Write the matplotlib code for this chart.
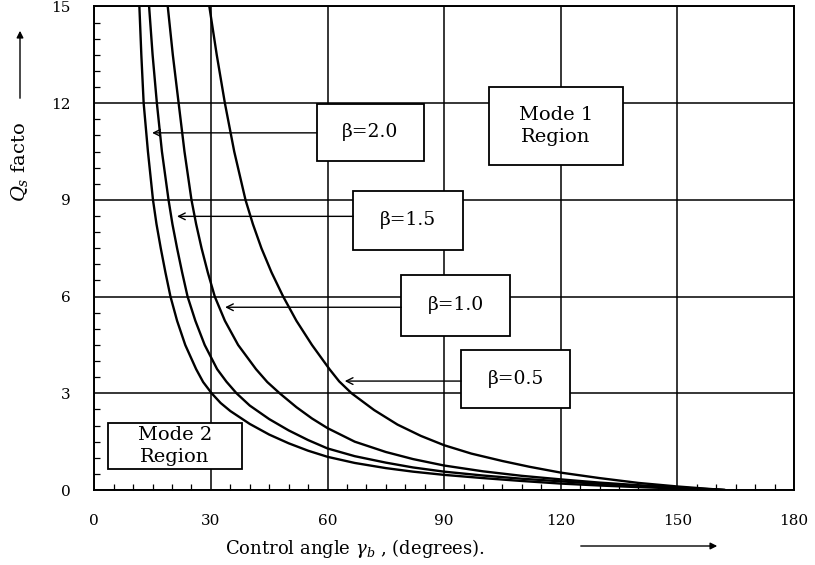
import numpy as np
import matplotlib
matplotlib.use("Agg")
import matplotlib.pyplot as plt
from matplotlib.patches import Rectangle
from matplotlib.ticker import MultipleLocator

plt.rcParams['font.family'] = ['DejaVu Serif']
plt.rcParams['mathtext.fontset'] = 'dejavuserif'

# Q_s factor against control angle, one curve per beta
angle_b05 = [29.6, 31.5, 33.6, 36.0, 38.9, 40.8, 43.0, 45.6, 48.6, 52.0, 56.0, 60.5, 63,
             66.2, 72, 78, 84, 90, 97, 105, 112, 120, 130, 140, 150, 162]
q_b05 = [15, 13.5, 12, 10.5, 9, 8.25, 7.5, 6.75, 6, 5.25, 4.5, 3.75, 3.37,
         3.0, 2.48, 2.03, 1.68, 1.39, 1.13, 0.9, 0.72, 0.54, 0.37, 0.22, 0.11, 0.0]

angle_b10 = [18.9, 20.2, 21.7, 23.2, 25.0, 26.2, 27.6, 29.2, 31.0, 33.6, 37.0, 41.6, 44.5,
             47.7, 52, 56, 60, 67, 75, 82, 90, 100, 110, 120, 130, 140, 150, 162]
q_b10 = [15, 13.5, 12, 10.5, 9, 8.25, 7.5, 6.75, 6, 5.25, 4.5, 3.75, 3.35,
         3.0, 2.57, 2.22, 1.92, 1.5, 1.18, 0.96, 0.76, 0.58, 0.44, 0.33, 0.23, 0.15, 0.08, 0.0]

angle_b15 = [14.1, 15.0, 16.1, 17.4, 19.1, 20.1, 21.3, 22.6, 24.0, 26.0, 28.4, 31.6, 34,
             36.6, 40, 45, 50, 55, 60, 67, 75, 82, 90, 100, 110, 120, 130, 140, 150, 162]
q_b15 = [15, 13.5, 12, 10.5, 9, 8.25, 7.5, 6.75, 6, 5.25, 4.5, 3.75, 3.36,
         3.0, 2.62, 2.2, 1.85, 1.55, 1.29, 1.05, 0.85, 0.70, 0.57, 0.45, 0.35, 0.27,
         0.19, 0.12, 0.06, 0.0]

angle_b20 = [11.6, 12.1, 12.7, 13.8, 15.1, 16.0, 17.1, 18.3, 19.6, 21.3, 23.4, 26.2, 28,
             30.2, 32.5, 35, 40, 45, 50, 55, 60, 67, 75, 82, 90, 100, 110, 120, 130,
             140, 150, 162]
q_b20 = [15, 13.5, 12, 10.5, 9, 8.25, 7.5, 6.75, 6, 5.25, 4.5, 3.75, 3.35,
         3.0, 2.7, 2.45, 2.05, 1.72, 1.45, 1.22, 1.03, 0.84, 0.68, 0.57, 0.47, 0.37,
         0.28, 0.20, 0.14, 0.09, 0.05, 0.0]

beta_labels = ['β=0.5', 'β=1.0', 'β=1.5', 'β=2.0']
arrow_levels = [3.38, 5.67, 8.49, 11.08]

fig = plt.figure(figsize=(8.15, 5.65), dpi=100)
ax = fig.add_axes([0.1157, 0.1327, 0.8585, 0.8558])

curves = [(angle_b05, q_b05), (angle_b10, q_b10), (angle_b15, q_b15), (angle_b20, q_b20)]
for xs, ys in curves:
    ax.plot(xs, ys, color='black', lw=1.7, zorder=2, solid_joinstyle='round')

ax.set_xlim(0, 180)
ax.set_ylim(0, 15)
ax.xaxis.set_major_locator(MultipleLocator(30))
ax.yaxis.set_major_locator(MultipleLocator(3))
ax.xaxis.set_minor_locator(MultipleLocator(5))
ax.yaxis.set_minor_locator(MultipleLocator(0.5))
ax.tick_params(which='major', length=0, labelsize=11)
ax.tick_params(axis='x', which='major', pad=17)
ax.tick_params(axis='y', which='major', pad=17)
ax.tick_params(which='minor', direction='in', length=4, width=0.9)
ax.set_axisbelow(True)
ax.grid(True, which='major', color='black', lw=1.1)
for sp in ax.spines.values():
    sp.set_linewidth(1.4)

# label boxes: (x0, y0, width, height) in data units
boxes = [(94.4, 2.55, 28.1, 1.80), (79.0, 4.79, 28.0, 1.87),
         (66.6, 7.45, 28.3, 1.84), (57.2, 10.2, 27.6, 1.79)]
for (x0, y0, w, h), label, yl, (xs, ys) in zip(boxes, beta_labels, arrow_levels, curves):
    ax.add_patch(Rectangle((x0, y0), w, h, facecolor='white', edgecolor='black',
                           lw=1.3, zorder=3))
    ax.text(x0 + w / 2, y0 + h / 2, label, ha='center', va='center',
            zorder=4, fontsize=13.5)
    tip = np.interp(yl, ys[::-1], xs[::-1]) + 1.5
    ax.annotate('', xy=(tip, yl), xytext=(x0, yl),
                arrowprops=dict(arrowstyle='->', lw=1.0, color='black',
                                shrinkA=0, shrinkB=0, mutation_scale=12),
                zorder=4)

for (x0, y0, w, h), label in [((101.5, 10.08, 34.5, 2.43), 'Mode 1\nRegion'),
                              ((3.6, 0.64, 34.3, 1.43), 'Mode 2\nRegion')]:
    ax.add_patch(Rectangle((x0, y0), w, h, facecolor='white', edgecolor='black',
                           lw=1.3, zorder=3))
    ax.text(x0 + w / 2, y0 + h / 2, label, ha='center', va='center',
            linespacing=1.3, zorder=4, fontsize=14)

fig.text(225 / 815, 1 - 548 / 565, r'Control angle $\gamma_b$ , (degrees).',
         ha='left', va='center', fontsize=13)
ax.annotate('', xy=(720 / 815, 1 - 546 / 565), xytext=(578 / 815, 1 - 546 / 565),
            xycoords='figure fraction', textcoords='figure fraction',
            arrowprops=dict(arrowstyle='-|>', lw=1.0, color='black', mutation_scale=10))

fig.text(20 / 815, 1 - 162 / 565, r'$Q_s$ facto', rotation=90,
         ha='center', va='center', fontsize=14)
ax.annotate('', xy=(20 / 815, 1 - 28 / 565), xytext=(20 / 815, 1 - 101 / 565),
            xycoords='figure fraction', textcoords='figure fraction',
            arrowprops=dict(arrowstyle='-|>', lw=1.0, color='black', mutation_scale=10))

fig.savefig('out.png', dpi=100)
